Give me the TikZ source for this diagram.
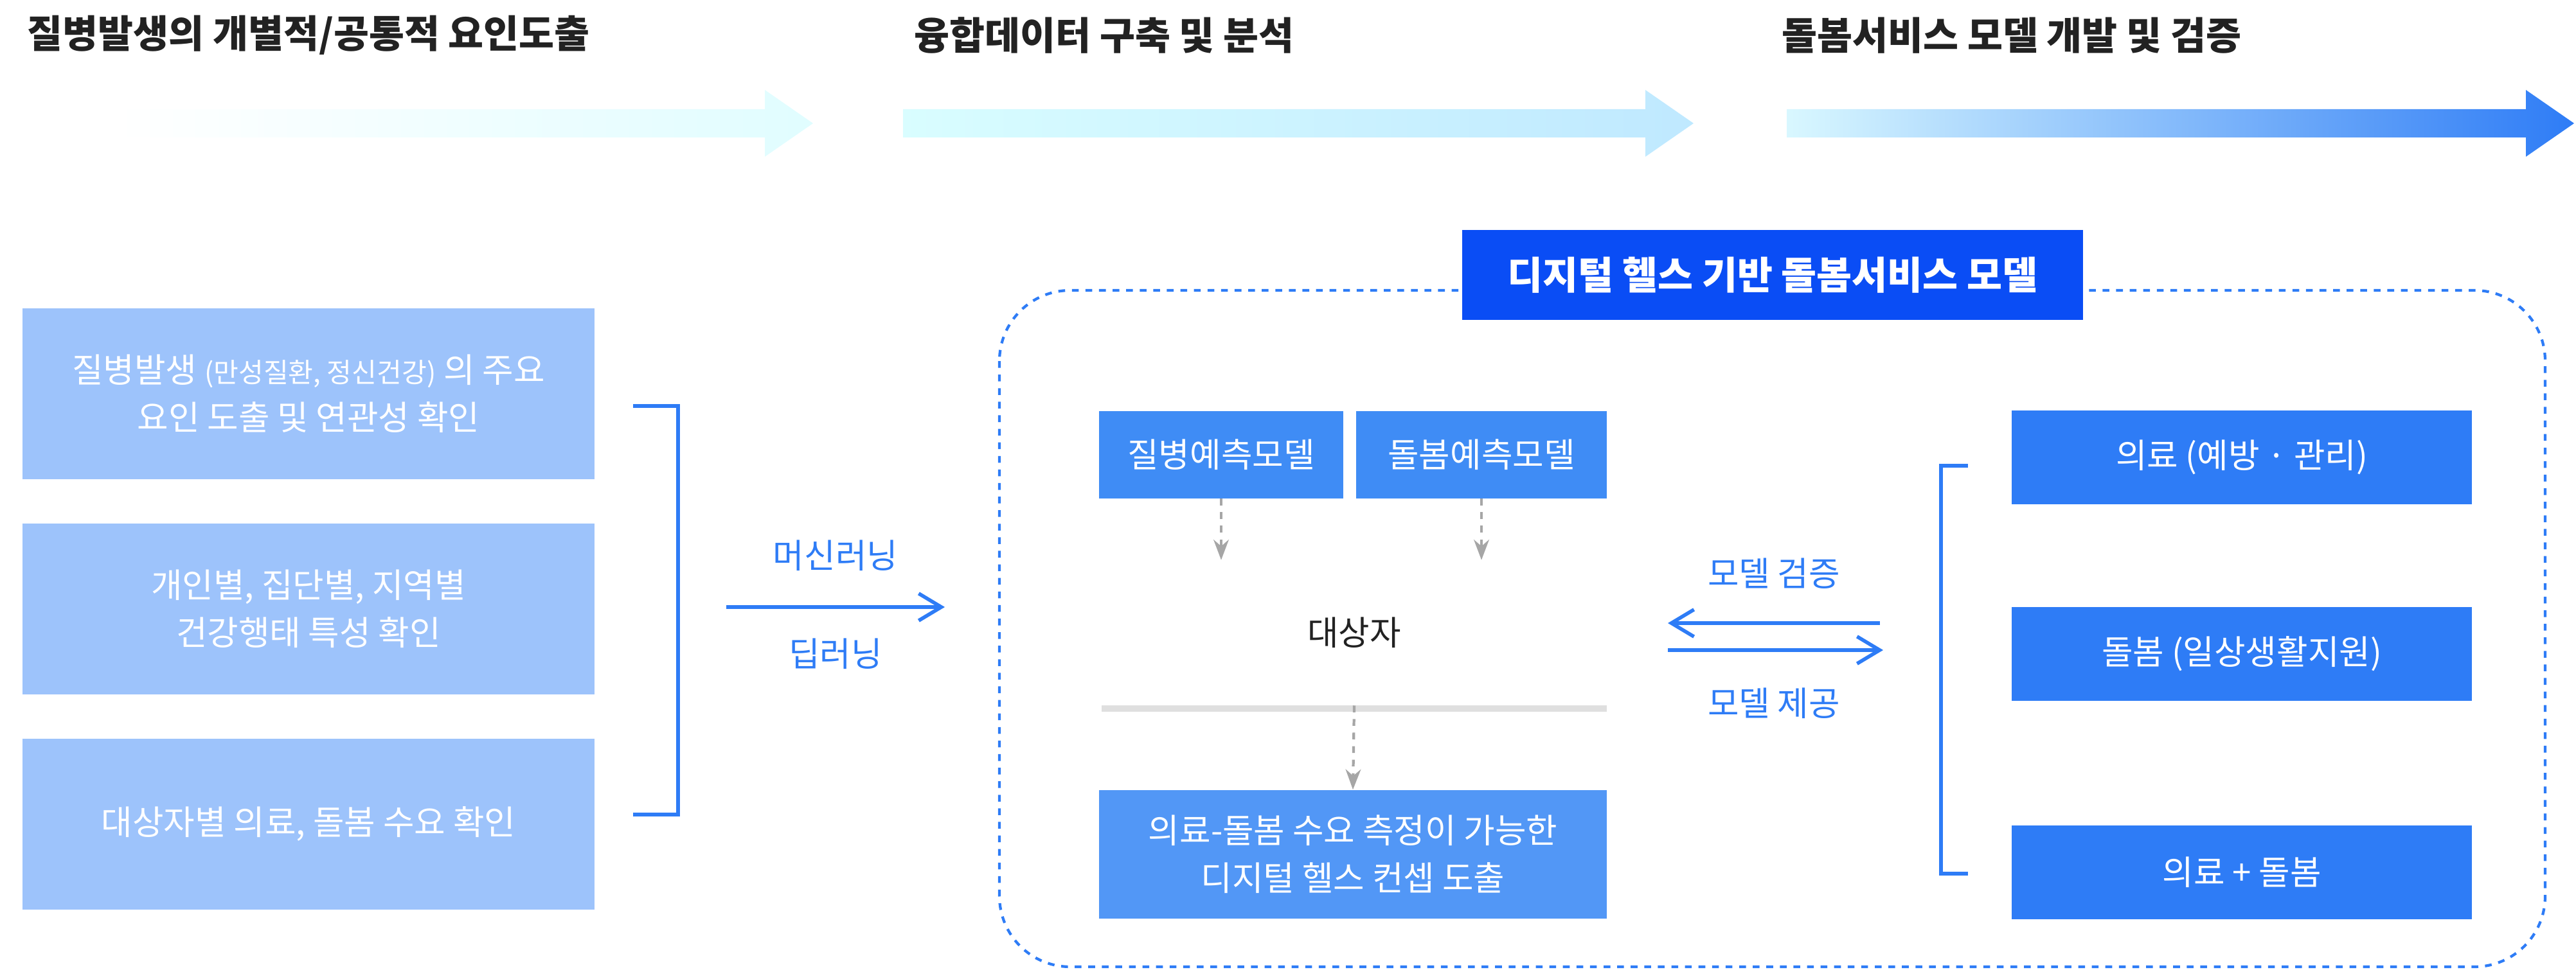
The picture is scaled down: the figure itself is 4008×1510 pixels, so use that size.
\documentclass[tikz,border=0pt]{standalone}
\usepackage{fontspec}
\newfontfamily\kr{Noto Sans CJK KR}
\usetikzlibrary{arrows.meta,shadows}
\definecolor{hdr}{HTML}{222222}
\definecolor{lb}{HTML}{9DC3FB}
\definecolor{mb}{HTML}{3F8CF5}
\definecolor{db}{HTML}{0A4DF5}
\definecolor{tb}{HTML}{2E7CF6}
\begin{document}
\begin{tikzpicture}[x=0.01cm,y=-0.01cm,
  hd/.style={anchor=west,font=\kr\fontsize{17}{20}\selectfont\bfseries,text=hdr},
  lbox/.style={fill=lb,text=white,align=center,font=\kr\fontsize{15}{21}\selectfont,inner sep=0pt},
  bbox/.style={fill=mb,text=white,align=center,font=\kr\fontsize{15}{21}\selectfont,inner sep=0pt},
  lab/.style={text=tb,font=\kr\fontsize{15}{18}\selectfont},
  garr/.style={gray!70,dashed,line width=1.2pt,-{Stealth[length=9pt]}},
  barr/.style={tb,line width=1.6pt,-{Straight Barb[length=10pt,width=12pt]}},
  brk/.style={tb,line width=1.6pt}]
\useasboundingbox (0,0) rectangle (4008,1510);
% headers
\node[hd] (h1) at (30,55) {질병발생의 개별적/공통적 요인도출};
\node[hd] (h2) at (1410,55) {융합데이터 구축 및 분석};
\node[hd] (h3) at (2760,55) {돌봄서비스 모델 개발 및 검증};
% gradient arrows
\shade[left color=white,right color=blue!8!cyan!12] (180,170)--(1190,170)--(1190,140)--(1265,192)--(1190,244)--(1190,214)--(180,214)--cycle;
\shade[left color=blue!5!cyan!15,right color=blue!35!cyan!25] (1405,170)--(2560,170)--(2560,140)--(2635,192)--(2560,244)--(2560,214)--(1405,214)--cycle;
\shade[left color=blue!20!cyan!15,right color=tb] (2780,170)--(3930,170)--(3930,140)--(4005,192)--(3930,244)--(3930,214)--(2780,214)--cycle;
% left boxes
\node[lbox,minimum width=8.9cm,minimum height=2.65cm] (l1) at (480,613) {질병발생 {\fontsize{12}{14}\selectfont(만성질환, 정신건강)} 의 주요\\요인 도출 및 연관성 확인};
\node[lbox,minimum width=8.9cm,minimum height=2.65cm] (l2) at (480,948) {개인별, 집단별, 지역별\\건강행태 특성 확인};
\node[lbox,minimum width=8.9cm,minimum height=2.65cm] (l3) at (480,1283) {대상자별 의료, 돌봄 수요 확인};
\coordinate (b1) at (985,632); \coordinate (b2) at (1055,632);
\coordinate (b3) at (1055,1268); \coordinate (b4) at (985,1268);
\draw[brk] (b1)--(b2)--(b3)--(b4);
\coordinate (m1) at (1130,945); \coordinate (m2) at (1470,945);
\draw[barr] (m1)--(m2);
\node[lab] (ml) at (1300,865) {머신러닝};
\node[lab] (dl) at (1300,1018) {딥러닝};
% dashed container
\draw[tb,dashed,line width=1.2pt,rounded corners=1.1cm] (1555,452) rectangle (3960,1505);
\node[fill=db,text=white,inner sep=0pt,minimum width=9.65cm,minimum height=1.4cm,font=\kr\fontsize{17}{20}\selectfont\bfseries] (title) at (2758,428) {디지털 헬스 기반 돌봄서비스 모델};
% inner
\node[bbox,minimum width=3.8cm,minimum height=1.35cm] (p1) at (1900,708) {질병예측모델};
\node[bbox,minimum width=3.9cm,minimum height=1.35cm] (p2) at (2305,708) {돌봄예측모델};
\node[fill=white,inner sep=0pt,drop shadow={opacity=0.25,shadow xshift=0pt,shadow yshift=-3pt},minimum width=7.85cm,minimum height=2.25cm,font=\kr\fontsize{15}{18}\selectfont,text=hdr] (t) at (2107,985) {대상자};
\node[bbox,fill=mb!90!white,minimum width=7.9cm,minimum height=2cm] (c) at (2105,1330) {의료-돌봄 수요 측정이 가능한\\디지털 헬스 컨셉 도출};
\draw[garr] (p1.south)--(p1.south |- t.north);
\draw[garr] (p2.south)--(p2.south |- t.north);
\draw[garr] (t.south)--(c.north);
% right
\node[bbox,fill=tb,minimum width=7.15cm,minimum height=1.45cm] (r1) at (3488,712) {의료 (예방 · 관리)};
\node[bbox,fill=tb,minimum width=7.15cm,minimum height=1.45cm] (r2) at (3488,1018) {돌봄 (일상생활지원)};
\node[bbox,fill=tb,minimum width=7.15cm,minimum height=1.45cm] (r3) at (3488,1358) {의료 + 돌봄};
\coordinate (k1) at (3062,725); \coordinate (k2) at (3020,725);
\coordinate (k3) at (3020,1360); \coordinate (k4) at (3062,1360);
\draw[brk] (k1)--(k2)--(k3)--(k4);
\coordinate (a1) at (2925,970); \coordinate (a2) at (2595,970);
\coordinate (a3) at (2595,1012); \coordinate (a4) at (2930,1012);
\draw[barr] (a1)--(a2);
\draw[barr] (a3)--(a4);
\node[lab] (v) at (2760,893) {모델 검증};
\node[lab] (s) at (2760,1095) {모델 제공};
\end{tikzpicture}
\end{document}
